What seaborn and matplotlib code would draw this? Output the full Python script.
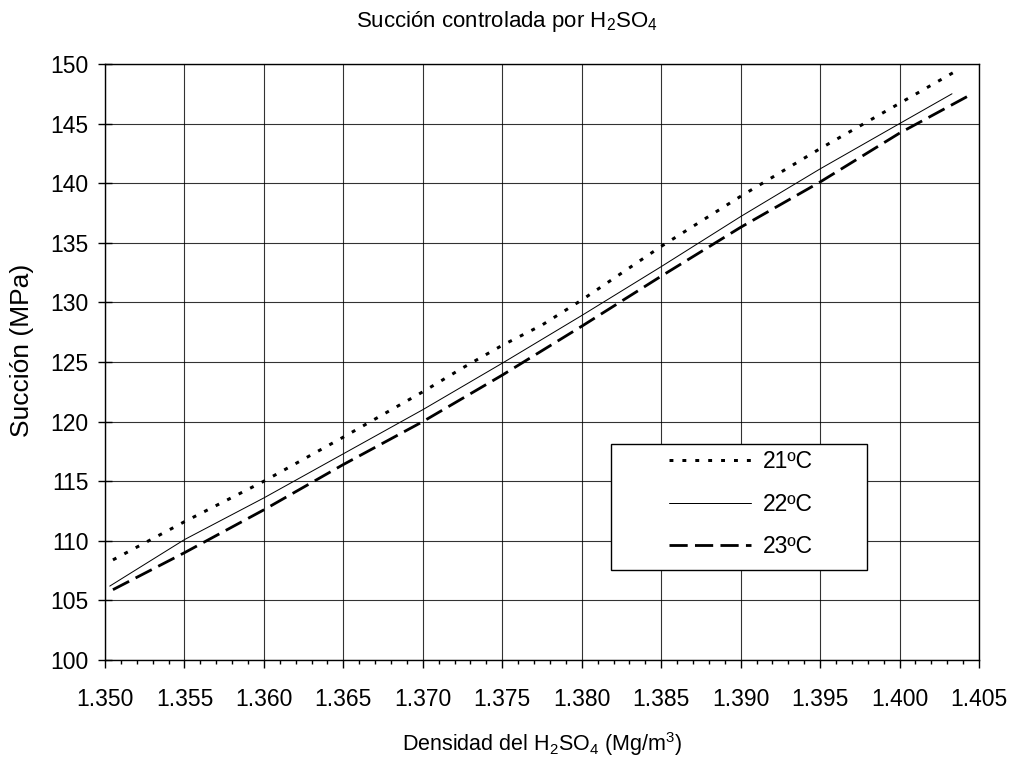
import matplotlib
matplotlib.use("Agg")
import matplotlib.pyplot as plt
import matplotlib.ticker as mticker
from matplotlib.patches import Rectangle
import seaborn as sns
import pandas as pd

# ---- data ----
x_21 = [1.3505, 1.355, 1.360, 1.365, 1.370, 1.3725, 1.375, 1.3775, 1.380, 1.385, 1.390, 1.395, 1.400, 1.4038]
y_21 = [108.4, 111.6, 115.0, 118.7, 122.5, 124.5, 126.4, 128.1, 130.2, 134.7, 138.9, 142.9, 146.7, 149.6]

x_22 = [1.3503, 1.355, 1.360, 1.365, 1.370, 1.375, 1.380, 1.385, 1.390, 1.395, 1.400, 1.4033]
y_22 = [106.2, 110.1, 113.6, 117.3, 121.0, 124.9, 128.9, 133.0, 137.2, 141.2, 145.0, 147.5]

x_23 = [1.3505, 1.355, 1.360, 1.365, 1.370, 1.375, 1.380, 1.385, 1.390, 1.395, 1.400, 1.4043]
y_23 = [105.9, 109.0, 112.6, 116.4, 120.0, 123.9, 128.0, 132.2, 136.3, 140.1, 144.2, 147.3]

labels = ["21ºC", "22ºC", "23ºC"]
x_ticks = [1.350, 1.355, 1.360, 1.365, 1.370, 1.375, 1.380, 1.385, 1.390, 1.395, 1.400, 1.405]
y_ticks = [100, 105, 110, 115, 120, 125, 130, 135, 140, 145, 150]

title = "Succión controlada por H$_2$SO$_4$"
xlabel = "Densidad del H$_2$SO$_4$ (Mg/m$^3$)"
ylabel = "Succión (MPa)"

sns.set_theme(style="white")
plt.rcParams["font.family"] = ["Liberation Sans", "DejaVu Sans"]
plt.rcParams["mathtext.fontset"] = "custom"
plt.rcParams["mathtext.rm"] = "Liberation Sans"
plt.rcParams["mathtext.it"] = "Liberation Sans:italic"
plt.rcParams["mathtext.bf"] = "Liberation Sans:bold"
plt.rcParams["text.color"] = "black"
plt.rcParams["axes.labelcolor"] = "black"
plt.rcParams["xtick.labelcolor"] = "black"
plt.rcParams["ytick.labelcolor"] = "black"

fig = plt.figure(figsize=(10.14, 7.65), dpi=100)
ax = fig.add_axes([105 / 1014, 1 - 660 / 765, 874 / 1014, 596 / 765])

df21 = pd.DataFrame({"x": x_21, "y": y_21})
df22 = pd.DataFrame({"x": x_22, "y": y_22})
df23 = pd.DataFrame({"x": x_23, "y": y_23})

lw21 = 3 * 0.72
lw22 = 1 * 0.72
lw23 = 2.8 * 0.72
sns.lineplot(data=df21, x="x", y="y", ax=ax, color="black", lw=lw21,
             label=labels[0], sort=False, zorder=3)
sns.lineplot(data=df22, x="x", y="y", ax=ax, color="black", lw=lw22,
             label=labels[1], sort=False, zorder=3)
sns.lineplot(data=df23, x="x", y="y", ax=ax, color="black", lw=lw23,
             label=labels[2], sort=False, zorder=3)
lines = ax.get_lines()
lines[0].set_linestyle((0, (1.3, 3.0)))
lines[0].set_dash_capstyle("butt")
lines[2].set_linestyle((0, (6.5, 2.6)))
lines[2].set_dash_capstyle("butt")

ax.set_xlim(1.350, 1.405)
ax.set_ylim(100, 150)
ax.set_xticks(x_ticks)
ax.set_xticklabels([f"{v:.3f}" for v in x_ticks])
ax.set_yticks(y_ticks)
ax.xaxis.set_minor_locator(mticker.MultipleLocator(0.001))

ax.grid(True, which="major", color="black", lw=0.8, alpha=0.8)
ax.set_axisbelow(True)
for s in ax.spines.values():
    s.set_color("black")
    s.set_linewidth(1.0)
    s.set_visible(True)

ax.tick_params(axis="x", which="major", direction="out", length=6, width=1,
               color="black", labelcolor="black", pad=14, labelsize=16.5, bottom=True)
ax.tick_params(axis="x", which="minor", direction="out", length=3, width=1,
               color="black", bottom=True)
ax.tick_params(axis="y", which="major", direction="inout", length=10, width=1,
               color="black", labelcolor="black", pad=7, labelsize=16.5, left=True)

ax.set_xlabel(xlabel, fontsize=15.5, labelpad=14, color="black")
ax.set_ylabel(ylabel, fontsize=19, color="black")
ax.yaxis.set_label_coords(-0.081, 0.520)
fig.text(0.5, 1 - 27 / 765, title, fontsize=16, ha="center", va="baseline", color="black")

# legend box
ax.add_patch(Rectangle((0.579, 0.151), 0.293, 0.2114, transform=ax.transAxes,
                       facecolor="white", edgecolor="black", lw=1.0, zorder=4))
leg = ax.legend(loc="upper left", bbox_to_anchor=(0.645, 0.352), frameon=False,
                fontsize=16.5, handlelength=3.6, handletextpad=0.5,
                labelspacing=0.85, borderpad=0, borderaxespad=0)
for t in leg.get_texts():
    t.set_color("black")
leg.set_zorder(5)

fig.savefig("out.png", dpi=100)
